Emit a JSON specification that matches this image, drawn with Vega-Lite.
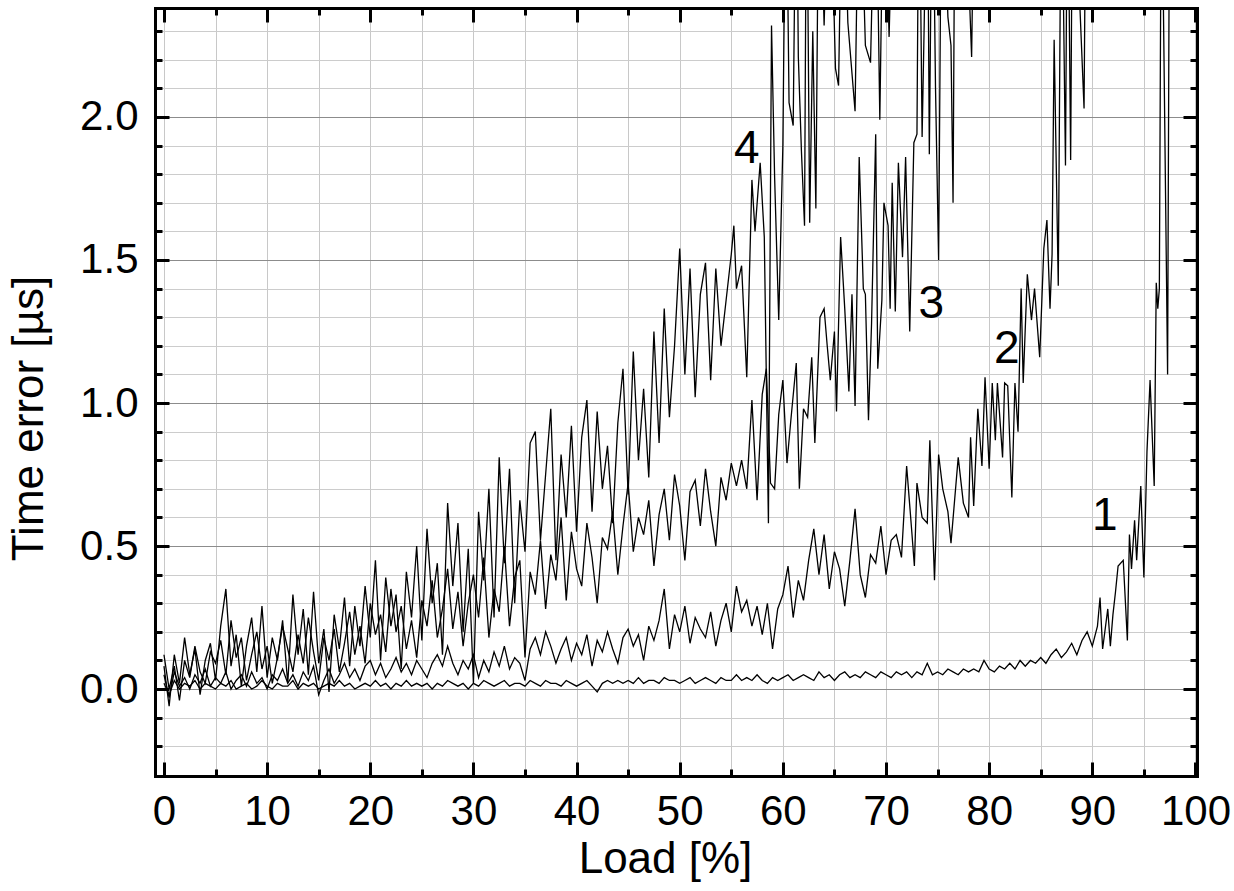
{
"$schema": "https://vega.github.io/schema/vega-lite/v6.json",
"width": 1042, "height": 768,
"autosize": {"type": "none"},
"padding": {"left": 155, "top": 8, "right": 37, "bottom": 115},
"background": "white",
"config": {"view": {"stroke": null}, "font": "Liberation Sans", "axis": {"labelFont": "Liberation Sans", "titleFont": "Liberation Sans"}},
"resolve": {"axis": {"x": "independent", "y": "independent"}},
"layer": [
{
"data": {"values": [
{"s":1,"x":0,"y":0.02},{"s":1,"x":0.5,"y":-0.02},{"s":1,"x":1,"y":0.03},{"s":1,"x":1.5,"y":0},{"s":1,"x":2,"y":0.02},{"s":1,"x":2.5,"y":0.01},{"s":1,"x":3,"y":0.03},{"s":1,"x":3.5,"y":0},{"s":1,"x":4,"y":0.02},{"s":1,"x":4.5,"y":0.01},{"s":1,"x":5,"y":0},{"s":1,"x":5.5,"y":0.02},{"s":1,"x":6,"y":0.01},{"s":1,"x":6.5,"y":0.03},{"s":1,"x":7,"y":0},{"s":1,"x":7.5,"y":0.01},{"s":1,"x":8,"y":0.02},{"s":1,"x":8.5,"y":0},{"s":1,"x":9,"y":0.01},{"s":1,"x":9.5,"y":0.03},
{"s":1,"x":10,"y":0.01},{"s":1,"x":10.5,"y":0},{"s":1,"x":11,"y":0.02},{"s":1,"x":11.5,"y":0.01},{"s":1,"x":12,"y":0.01},{"s":1,"x":12.5,"y":0.03},{"s":1,"x":13,"y":0},{"s":1,"x":13.5,"y":0.02},{"s":1,"x":14,"y":0.01},{"s":1,"x":14.5,"y":0.02},{"s":1,"x":15,"y":0},{"s":1,"x":15.5,"y":0.01},{"s":1,"x":16,"y":0.02},{"s":1,"x":16.5,"y":0.01},{"s":1,"x":17,"y":0.03},{"s":1,"x":17.5,"y":0.01},{"s":1,"x":18,"y":0.02},{"s":1,"x":18.5,"y":0},{"s":1,"x":19,"y":0.01},{"s":1,"x":19.5,"y":0.02},
{"s":1,"x":20,"y":0.01},{"s":1,"x":20.5,"y":0.03},{"s":1,"x":21,"y":0.01},{"s":1,"x":21.5,"y":0.02},{"s":1,"x":22,"y":0},{"s":1,"x":22.5,"y":0.02},{"s":1,"x":23,"y":0.01},{"s":1,"x":23.5,"y":0.03},{"s":1,"x":24,"y":0.01},{"s":1,"x":24.5,"y":0.02},{"s":1,"x":25,"y":0.01},{"s":1,"x":25.5,"y":0.02},{"s":1,"x":26,"y":0},{"s":1,"x":26.5,"y":0.02},{"s":1,"x":27,"y":0.01},{"s":1,"x":27.5,"y":0.03},{"s":1,"x":28,"y":0.02},{"s":1,"x":28.5,"y":0.01},{"s":1,"x":29,"y":0.02},{"s":1,"x":29.5,"y":0},
{"s":1,"x":30,"y":0.02},{"s":1,"x":30.5,"y":0.01},{"s":1,"x":31,"y":0.03},{"s":1,"x":31.5,"y":0.02},{"s":1,"x":32,"y":0.01},{"s":1,"x":32.5,"y":0.02},{"s":1,"x":33,"y":0.03},{"s":1,"x":33.5,"y":0.01},{"s":1,"x":34,"y":0.02},{"s":1,"x":34.5,"y":0.02},{"s":1,"x":35,"y":0.01},{"s":1,"x":35.5,"y":0.03},{"s":1,"x":36,"y":0.02},{"s":1,"x":36.5,"y":0.01},{"s":1,"x":37,"y":0.03},{"s":1,"x":37.5,"y":0.02},{"s":1,"x":38,"y":0.02},{"s":1,"x":38.5,"y":0.01},{"s":1,"x":39,"y":0.03},{"s":1,"x":39.5,"y":0.02},
{"s":1,"x":40,"y":0.01},{"s":1,"x":40.5,"y":0.02},{"s":1,"x":41,"y":0.03},{"s":1,"x":41.5,"y":0.01},{"s":1,"x":42,"y":-0.01},{"s":1,"x":42.5,"y":0.02},{"s":1,"x":43,"y":0.03},{"s":1,"x":43.5,"y":0.02},{"s":1,"x":44,"y":0.03},{"s":1,"x":44.5,"y":0.02},{"s":1,"x":45,"y":0.03},{"s":1,"x":45.5,"y":0.02},{"s":1,"x":46,"y":0.04},{"s":1,"x":46.5,"y":0.02},{"s":1,"x":47,"y":0.03},{"s":1,"x":47.5,"y":0.03},{"s":1,"x":48,"y":0.02},{"s":1,"x":48.5,"y":0.04},{"s":1,"x":49,"y":0.03},{"s":1,"x":49.5,"y":0.03},
{"s":1,"x":50,"y":0.02},{"s":1,"x":50.5,"y":0.03},{"s":1,"x":51,"y":0.04},{"s":1,"x":51.5,"y":0.02},{"s":1,"x":52,"y":0.03},{"s":1,"x":52.5,"y":0.04},{"s":1,"x":53,"y":0.03},{"s":1,"x":53.5,"y":0.02},{"s":1,"x":54,"y":0.04},{"s":1,"x":54.5,"y":0.03},{"s":1,"x":55,"y":0.03},{"s":1,"x":55.5,"y":0.05},{"s":1,"x":56,"y":0.03},{"s":1,"x":56.5,"y":0.04},{"s":1,"x":57,"y":0.03},{"s":1,"x":57.5,"y":0.05},{"s":1,"x":58,"y":0.03},{"s":1,"x":58.5,"y":0.02},{"s":1,"x":59,"y":0.04},{"s":1,"x":59.5,"y":0.03},
{"s":1,"x":60,"y":0.04},{"s":1,"x":60.5,"y":0.05},{"s":1,"x":61,"y":0.03},{"s":1,"x":61.5,"y":0.04},{"s":1,"x":62,"y":0.05},{"s":1,"x":62.5,"y":0.04},{"s":1,"x":63,"y":0.03},{"s":1,"x":63.5,"y":0.06},{"s":1,"x":64,"y":0.04},{"s":1,"x":64.5,"y":0.05},{"s":1,"x":65,"y":0.03},{"s":1,"x":65.5,"y":0.05},{"s":1,"x":66,"y":0.06},{"s":1,"x":66.5,"y":0.04},{"s":1,"x":67,"y":0.05},{"s":1,"x":67.5,"y":0.04},{"s":1,"x":68,"y":0.06},{"s":1,"x":68.5,"y":0.05},{"s":1,"x":69,"y":0.04},{"s":1,"x":69.5,"y":0.06},
{"s":1,"x":70,"y":0.05},{"s":1,"x":70.5,"y":0.04},{"s":1,"x":71,"y":0.06},{"s":1,"x":71.5,"y":0.05},{"s":1,"x":72,"y":0.06},{"s":1,"x":72.5,"y":0.04},{"s":1,"x":73,"y":0.06},{"s":1,"x":73.5,"y":0.05},{"s":1,"x":74,"y":0.09},{"s":1,"x":74.5,"y":0.05},{"s":1,"x":75,"y":0.06},{"s":1,"x":75.5,"y":0.05},{"s":1,"x":76,"y":0.07},{"s":1,"x":76.5,"y":0.06},{"s":1,"x":77,"y":0.05},{"s":1,"x":77.5,"y":0.07},{"s":1,"x":78,"y":0.06},{"s":1,"x":78.5,"y":0.07},{"s":1,"x":79,"y":0.06},{"s":1,"x":79.5,"y":0.1},
{"s":1,"x":80,"y":0.07},{"s":1,"x":80.5,"y":0.06},{"s":1,"x":81,"y":0.08},{"s":1,"x":81.5,"y":0.07},{"s":1,"x":82,"y":0.09},{"s":1,"x":82.5,"y":0.07},{"s":1,"x":83,"y":0.1},{"s":1,"x":83.5,"y":0.08},{"s":1,"x":84,"y":0.1},{"s":1,"x":84.5,"y":0.09},{"s":1,"x":85,"y":0.11},{"s":1,"x":85.5,"y":0.09},{"s":1,"x":86,"y":0.12},{"s":1,"x":86.5,"y":0.14},{"s":1,"x":87,"y":0.11},{"s":1,"x":87.5,"y":0.13},{"s":1,"x":88,"y":0.16},{"s":1,"x":88.5,"y":0.12},{"s":1,"x":89,"y":0.17},{"s":1,"x":89.5,"y":0.2},
{"s":1,"x":90,"y":0.15},{"s":1,"x":90.5,"y":0.22},{"s":1,"x":90.75,"y":0.32},{"s":1,"x":91,"y":0.14},{"s":1,"x":91.5,"y":0.28},{"s":1,"x":91.75,"y":0.15},{"s":1,"x":92,"y":0.26},{"s":1,"x":92.25,"y":0.34},{"s":1,"x":92.5,"y":0.43},{"s":1,"x":93,"y":0.45},{"s":1,"x":93.4,"y":0.17},{"s":1,"x":93.6,"y":0.54},{"s":1,"x":93.8,"y":0.42},{"s":1,"x":94.1,"y":0.59},{"s":1,"x":94.3,"y":0.45},{"s":1,"x":94.7,"y":0.71},{"s":1,"x":95,"y":0.39},{"s":1,"x":95.3,"y":0.83},{"s":1,"x":95.6,"y":1.08},{"s":1,"x":96,"y":0.71},{"s":1,"x":96.2,"y":1.42},{"s":1,"x":96.35,"y":1.33},{"s":1,"x":96.5,"y":1.4},{"s":1,"x":96.7,"y":3},{"s":1,"x":97.3,"y":1.1},{"s":1,"x":97.5,"y":3},
{"s":2,"x":0,"y":0.05},{"s":2,"x":0.5,"y":-0.03},{"s":2,"x":1,"y":0.06},{"s":2,"x":1.5,"y":0.01},{"s":2,"x":2,"y":0.04},{"s":2,"x":2.5,"y":0},{"s":2,"x":3,"y":0.05},{"s":2,"x":3.5,"y":0.02},{"s":2,"x":4,"y":0.07},{"s":2,"x":4.5,"y":0.01},{"s":2,"x":5,"y":0.04},{"s":2,"x":5.5,"y":0.02},{"s":2,"x":6,"y":0.06},{"s":2,"x":6.5,"y":0},{"s":2,"x":7,"y":0.03},{"s":2,"x":7.5,"y":0.05},{"s":2,"x":8,"y":0.01},{"s":2,"x":8.5,"y":0.06},{"s":2,"x":9,"y":0.02},{"s":2,"x":9.5,"y":0.04},
{"s":2,"x":10,"y":0},{"s":2,"x":10.5,"y":0.05},{"s":2,"x":11,"y":0.03},{"s":2,"x":11.5,"y":0.07},{"s":2,"x":12,"y":0.02},{"s":2,"x":12.5,"y":0.05},{"s":2,"x":13,"y":0.01},{"s":2,"x":13.5,"y":0.06},{"s":2,"x":14,"y":0.03},{"s":2,"x":14.5,"y":0.08},{"s":2,"x":15,"y":-0.02},{"s":2,"x":15.5,"y":0.03},{"s":2,"x":16,"y":0.07},{"s":2,"x":16.5,"y":0.02},{"s":2,"x":17,"y":0.05},{"s":2,"x":17.5,"y":0.09},{"s":2,"x":18,"y":0.04},{"s":2,"x":18.5,"y":0.07},{"s":2,"x":19,"y":0.03},{"s":2,"x":19.5,"y":0.08},
{"s":2,"x":20,"y":0.1},{"s":2,"x":20.5,"y":0.05},{"s":2,"x":21,"y":0.09},{"s":2,"x":21.5,"y":0.04},{"s":2,"x":22,"y":0.07},{"s":2,"x":22.5,"y":0.11},{"s":2,"x":23,"y":0.06},{"s":2,"x":23.5,"y":0.09},{"s":2,"x":24,"y":0.05},{"s":2,"x":24.5,"y":0.1},{"s":2,"x":25,"y":0.07},{"s":2,"x":25.5,"y":0.04},{"s":2,"x":26,"y":0.09},{"s":2,"x":26.5,"y":0.12},{"s":2,"x":27,"y":0.08},{"s":2,"x":27.5,"y":0.15},{"s":2,"x":28,"y":0.09},{"s":2,"x":28.5,"y":0.05},{"s":2,"x":29,"y":0.1},{"s":2,"x":29.5,"y":0.07},
{"s":2,"x":30,"y":0.12},{"s":2,"x":30.5,"y":0.04},{"s":2,"x":31,"y":0.1},{"s":2,"x":31.5,"y":0.06},{"s":2,"x":32,"y":0.13},{"s":2,"x":32.5,"y":0.08},{"s":2,"x":33,"y":0.15},{"s":2,"x":33.5,"y":0.07},{"s":2,"x":34,"y":0.11},{"s":2,"x":34.5,"y":0.09},{"s":2,"x":35,"y":0.03},{"s":2,"x":35.5,"y":0.14},{"s":2,"x":36,"y":0.18},{"s":2,"x":36.5,"y":0.12},{"s":2,"x":37,"y":0.2},{"s":2,"x":37.5,"y":0.15},{"s":2,"x":38,"y":0.09},{"s":2,"x":38.5,"y":0.14},{"s":2,"x":39,"y":0.18},{"s":2,"x":39.5,"y":0.1},
{"s":2,"x":40,"y":0.16},{"s":2,"x":40.5,"y":0.12},{"s":2,"x":41,"y":0.19},{"s":2,"x":41.5,"y":0.08},{"s":2,"x":42,"y":0.17},{"s":2,"x":42.5,"y":0.13},{"s":2,"x":43,"y":0.2},{"s":2,"x":43.5,"y":0.14},{"s":2,"x":44,"y":0.09},{"s":2,"x":44.5,"y":0.18},{"s":2,"x":45,"y":0.21},{"s":2,"x":45.5,"y":0.15},{"s":2,"x":46,"y":0.19},{"s":2,"x":46.5,"y":0.1},{"s":2,"x":47,"y":0.22},{"s":2,"x":47.5,"y":0.17},{"s":2,"x":48,"y":0.24},{"s":2,"x":48.5,"y":0.35},{"s":2,"x":49,"y":0.14},{"s":2,"x":49.5,"y":0.26},
{"s":2,"x":50,"y":0.2},{"s":2,"x":50.5,"y":0.29},{"s":2,"x":51,"y":0.16},{"s":2,"x":51.5,"y":0.25},{"s":2,"x":52,"y":0.21},{"s":2,"x":52.5,"y":0.18},{"s":2,"x":53,"y":0.27},{"s":2,"x":53.5,"y":0.15},{"s":2,"x":54,"y":0.24},{"s":2,"x":54.5,"y":0.3},{"s":2,"x":55,"y":0.2},{"s":2,"x":55.5,"y":0.36},{"s":2,"x":56,"y":0.27},{"s":2,"x":56.5,"y":0.31},{"s":2,"x":57,"y":0.22},{"s":2,"x":57.5,"y":0.29},{"s":2,"x":58,"y":0.19},{"s":2,"x":58.5,"y":0.3},{"s":2,"x":59,"y":0.14},{"s":2,"x":59.5,"y":0.28},
{"s":2,"x":60,"y":0.33},{"s":2,"x":60.5,"y":0.43},{"s":2,"x":61,"y":0.25},{"s":2,"x":61.5,"y":0.38},{"s":2,"x":62,"y":0.31},{"s":2,"x":62.5,"y":0.45},{"s":2,"x":63,"y":0.56},{"s":2,"x":63.5,"y":0.4},{"s":2,"x":64,"y":0.54},{"s":2,"x":64.5,"y":0.35},{"s":2,"x":65,"y":0.48},{"s":2,"x":65.5,"y":0.42},{"s":2,"x":66,"y":0.29},{"s":2,"x":66.5,"y":0.45},{"s":2,"x":67,"y":0.63},{"s":2,"x":67.5,"y":0.4},{"s":2,"x":68,"y":0.32},{"s":2,"x":68.5,"y":0.47},{"s":2,"x":69,"y":0.44},{"s":2,"x":69.5,"y":0.57},
{"s":2,"x":70,"y":0.4},{"s":2,"x":70.5,"y":0.52},{"s":2,"x":71,"y":0.54},{"s":2,"x":71.5,"y":0.46},{"s":2,"x":72,"y":0.78},{"s":2,"x":72.5,"y":0.55},{"s":2,"x":72.75,"y":0.43},{"s":2,"x":73,"y":0.72},{"s":2,"x":73.5,"y":0.6},{"s":2,"x":74,"y":0.58},{"s":2,"x":74.25,"y":0.87},{"s":2,"x":74.7,"y":0.38},{"s":2,"x":75.1,"y":0.82},{"s":2,"x":75.5,"y":0.7},{"s":2,"x":76,"y":0.62},{"s":2,"x":76.3,"y":0.51},{"s":2,"x":77,"y":0.81},{"s":2,"x":77.5,"y":0.65},{"s":2,"x":78,"y":0.6},{"s":2,"x":78.2,"y":0.88},{"s":2,"x":78.5,"y":0.64},{"s":2,"x":78.9,"y":0.98},{"s":2,"x":79.3,"y":0.78},{"s":2,"x":79.6,"y":1.09},
{"s":2,"x":80,"y":0.77},{"s":2,"x":80.3,"y":1.07},{"s":2,"x":80.6,"y":0.87},{"s":2,"x":80.8,"y":1.07},{"s":2,"x":81.3,"y":0.81},{"s":2,"x":81.5,"y":1.07},{"s":2,"x":81.8,"y":1.06},{"s":2,"x":82.2,"y":0.67},{"s":2,"x":82.5,"y":1.07},{"s":2,"x":82.8,"y":0.9},{"s":2,"x":83.1,"y":1.4},{"s":2,"x":83.3,"y":1.07},{"s":2,"x":83.7,"y":1.45},{"s":2,"x":84.1,"y":1.29},{"s":2,"x":84.4,"y":1.4},{"s":2,"x":84.9,"y":1.16},{"s":2,"x":85.3,"y":1.54},{"s":2,"x":85.6,"y":1.64},{"s":2,"x":85.9,"y":1.33},{"s":2,"x":86.1,"y":1.52},{"s":2,"x":86.3,"y":2.27},{"s":2,"x":86.7,"y":1.41},{"s":2,"x":87,"y":3},{"s":2,"x":87.4,"y":1.83},{"s":2,"x":87.6,"y":3},{"s":2,"x":87.9,"y":1.85},{"s":2,"x":88.1,"y":3},{"s":2,"x":89.2,"y":2.03},{"s":2,"x":89.4,"y":3},
{"s":3,"x":0,"y":0.12},{"s":3,"x":0.5,"y":0},{"s":3,"x":1,"y":0.08},{"s":3,"x":1.5,"y":-0.04},{"s":3,"x":2,"y":0.1},{"s":3,"x":2.5,"y":0.04},{"s":3,"x":3,"y":0.15},{"s":3,"x":3.5,"y":0.06},{"s":3,"x":4,"y":0.02},{"s":3,"x":4.5,"y":0.13},{"s":3,"x":5,"y":0.09},{"s":3,"x":5.5,"y":0.17},{"s":3,"x":6,"y":0.05},{"s":3,"x":6.5,"y":0.24},{"s":3,"x":7,"y":0.11},{"s":3,"x":7.5,"y":0.18},{"s":3,"x":8,"y":0.03},{"s":3,"x":8.5,"y":0.12},{"s":3,"x":9,"y":0.2},{"s":3,"x":9.5,"y":0.07},
{"s":3,"x":10,"y":0.15},{"s":3,"x":10.5,"y":0.02},{"s":3,"x":11,"y":0.11},{"s":3,"x":11.5,"y":0.22},{"s":3,"x":12,"y":0.14},{"s":3,"x":12.5,"y":0.06},{"s":3,"x":13,"y":0.19},{"s":3,"x":13.5,"y":0.09},{"s":3,"x":14,"y":0.25},{"s":3,"x":14.5,"y":0.13},{"s":3,"x":15,"y":0.03},{"s":3,"x":15.5,"y":0.18},{"s":3,"x":16,"y":0.1},{"s":3,"x":16.5,"y":0.21},{"s":3,"x":17,"y":0.06},{"s":3,"x":17.5,"y":0.16},{"s":3,"x":18,"y":0.27},{"s":3,"x":18.5,"y":0.12},{"s":3,"x":19,"y":0.22},{"s":3,"x":19.5,"y":0.09},
{"s":3,"x":20,"y":0.3},{"s":3,"x":20.5,"y":0.19},{"s":3,"x":21,"y":0.26},{"s":3,"x":21.5,"y":0.13},{"s":3,"x":22,"y":0.35},{"s":3,"x":22.5,"y":0.2},{"s":3,"x":23,"y":0.29},{"s":3,"x":23.5,"y":0.14},{"s":3,"x":24,"y":0.24},{"s":3,"x":24.5,"y":0.11},{"s":3,"x":25,"y":0.31},{"s":3,"x":25.5,"y":0.22},{"s":3,"x":26,"y":0.38},{"s":3,"x":26.5,"y":0.18},{"s":3,"x":27,"y":0.28},{"s":3,"x":27.5,"y":0.42},{"s":3,"x":28,"y":0.21},{"s":3,"x":28.5,"y":0.34},{"s":3,"x":29,"y":0.15},{"s":3,"x":29.5,"y":0.3},
{"s":3,"x":30,"y":0.4},{"s":3,"x":30.5,"y":0.25},{"s":3,"x":31,"y":0.46},{"s":3,"x":31.5,"y":0.18},{"s":3,"x":32,"y":0.35},{"s":3,"x":32.5,"y":0.27},{"s":3,"x":33,"y":0.5},{"s":3,"x":33.5,"y":0.22},{"s":3,"x":34,"y":0.39},{"s":3,"x":34.5,"y":0.45},{"s":3,"x":35,"y":0.11},{"s":3,"x":35.5,"y":0.41},{"s":3,"x":36,"y":0.33},{"s":3,"x":36.5,"y":0.52},{"s":3,"x":37,"y":0.28},{"s":3,"x":37.5,"y":0.47},{"s":3,"x":38,"y":0.38},{"s":3,"x":38.5,"y":0.6},{"s":3,"x":39,"y":0.31},{"s":3,"x":39.5,"y":0.55},
{"s":3,"x":40,"y":0.42},{"s":3,"x":40.5,"y":0.36},{"s":3,"x":41,"y":0.58},{"s":3,"x":41.5,"y":0.46},{"s":3,"x":42,"y":0.3},{"s":3,"x":42.5,"y":0.53},{"s":3,"x":43,"y":0.49},{"s":3,"x":43.5,"y":0.62},{"s":3,"x":44,"y":0.4},{"s":3,"x":44.5,"y":0.57},{"s":3,"x":45,"y":0.72},{"s":3,"x":45.5,"y":0.48},{"s":3,"x":46,"y":0.6},{"s":3,"x":46.5,"y":0.54},{"s":3,"x":47,"y":0.66},{"s":3,"x":47.5,"y":0.43},{"s":3,"x":48,"y":0.61},{"s":3,"x":48.5,"y":0.7},{"s":3,"x":49,"y":0.52},{"s":3,"x":49.5,"y":0.75},
{"s":3,"x":50,"y":0.64},{"s":3,"x":50.5,"y":0.45},{"s":3,"x":51,"y":0.69},{"s":3,"x":51.5,"y":0.73},{"s":3,"x":52,"y":0.57},{"s":3,"x":52.5,"y":0.77},{"s":3,"x":53,"y":0.62},{"s":3,"x":53.5,"y":0.5},{"s":3,"x":54,"y":0.74},{"s":3,"x":54.5,"y":0.66},{"s":3,"x":55,"y":0.79},{"s":3,"x":55.5,"y":0.71},{"s":3,"x":56,"y":0.8},{"s":3,"x":56.5,"y":0.7},{"s":3,"x":57,"y":1.01},{"s":3,"x":57.5,"y":0.66},{"s":3,"x":58,"y":1.03},{"s":3,"x":58.4,"y":1.12},{"s":3,"x":58.8,"y":0.72},{"s":3,"x":59.2,"y":0.7},{"s":3,"x":59.6,"y":0.96},
{"s":3,"x":60,"y":1.08},{"s":3,"x":60.4,"y":0.79},{"s":3,"x":60.8,"y":0.95},{"s":3,"x":61.3,"y":1.14},{"s":3,"x":61.6,"y":0.7},{"s":3,"x":62,"y":0.98},{"s":3,"x":62.4,"y":0.95},{"s":3,"x":62.8,"y":1.16},{"s":3,"x":63.1,"y":0.86},{"s":3,"x":63.6,"y":1.3},{"s":3,"x":64,"y":1.33},{"s":3,"x":64.3,"y":1.2},{"s":3,"x":64.6,"y":1.08},{"s":3,"x":65,"y":1.25},{"s":3,"x":65.2,"y":0.97},{"s":3,"x":65.6,"y":1.58},{"s":3,"x":66,"y":1.33},{"s":3,"x":66.4,"y":1.04},{"s":3,"x":66.7,"y":1.38},{"s":3,"x":67,"y":0.99},{"s":3,"x":67.4,"y":1.86},{"s":3,"x":67.8,"y":1.4},{"s":3,"x":68,"y":1.38},{"s":3,"x":68.3,"y":0.94},{"s":3,"x":68.6,"y":1.28},{"s":3,"x":69,"y":1.94},{"s":3,"x":69.2,"y":1.12},{"s":3,"x":69.6,"y":1.36},{"s":3,"x":69.8,"y":1.7},
{"s":3,"x":70.2,"y":1.62},{"s":3,"x":70.4,"y":1.33},{"s":3,"x":70.6,"y":1.77},{"s":3,"x":70.9,"y":1.32},{"s":3,"x":71.2,"y":1.84},{"s":3,"x":71.6,"y":1.51},{"s":3,"x":71.9,"y":1.86},{"s":3,"x":72.3,"y":1.25},{"s":3,"x":72.7,"y":1.91},{"s":3,"x":73,"y":1.94},{"s":3,"x":73.2,"y":3},{"s":3,"x":73.5,"y":1.93},{"s":3,"x":73.7,"y":2.32},{"s":3,"x":74,"y":3},{"s":3,"x":74.2,"y":1.87},{"s":3,"x":74.5,"y":3},{"s":3,"x":74.8,"y":2.1},{"s":3,"x":75.1,"y":1.5},{"s":3,"x":75.4,"y":3},{"s":3,"x":76,"y":2.35},{"s":3,"x":76.3,"y":2.25},{"s":3,"x":76.5,"y":1.7},{"s":3,"x":76.7,"y":3},{"s":3,"x":77.5,"y":3},{"s":3,"x":78.3,"y":2.21},{"s":3,"x":78.6,"y":3},
{"s":4,"x":0,"y":0.08},{"s":4,"x":0.5,"y":-0.06},{"s":4,"x":1,"y":0.12},{"s":4,"x":1.5,"y":0.02},{"s":4,"x":2,"y":0.18},{"s":4,"x":2.5,"y":0.05},{"s":4,"x":3,"y":0.14},{"s":4,"x":3.5,"y":-0.02},{"s":4,"x":4,"y":0.1},{"s":4,"x":4.5,"y":0.16},{"s":4,"x":5,"y":0.03},{"s":4,"x":5.5,"y":0.22},{"s":4,"x":6,"y":0.35},{"s":4,"x":6.5,"y":0.08},{"s":4,"x":7,"y":0.19},{"s":4,"x":7.5,"y":0.01},{"s":4,"x":8,"y":0.15},{"s":4,"x":8.5,"y":0.25},{"s":4,"x":9,"y":0.06},{"s":4,"x":9.5,"y":0.29},
{"s":4,"x":10,"y":0.04},{"s":4,"x":10.5,"y":0.18},{"s":4,"x":11,"y":0.1},{"s":4,"x":11.5,"y":0.24},{"s":4,"x":12,"y":0.02},{"s":4,"x":12.5,"y":0.33},{"s":4,"x":13,"y":0.12},{"s":4,"x":13.5,"y":0.28},{"s":4,"x":14,"y":0.05},{"s":4,"x":14.5,"y":0.34},{"s":4,"x":15,"y":0.09},{"s":4,"x":15.5,"y":0.21},{"s":4,"x":16,"y":-0.01},{"s":4,"x":16.5,"y":0.26},{"s":4,"x":17,"y":0.14},{"s":4,"x":17.5,"y":0.32},{"s":4,"x":18,"y":0.08},{"s":4,"x":18.5,"y":0.29},{"s":4,"x":19,"y":0.15},{"s":4,"x":19.5,"y":0.36},
{"s":4,"x":20,"y":0.18},{"s":4,"x":20.5,"y":0.45},{"s":4,"x":21,"y":0.1},{"s":4,"x":21.5,"y":0.39},{"s":4,"x":22,"y":0.22},{"s":4,"x":22.5,"y":0.33},{"s":4,"x":23,"y":0.07},{"s":4,"x":23.5,"y":0.41},{"s":4,"x":24,"y":0.25},{"s":4,"x":24.5,"y":0.5},{"s":4,"x":25,"y":0.17},{"s":4,"x":25.5,"y":0.56},{"s":4,"x":26,"y":0.3},{"s":4,"x":26.5,"y":0.44},{"s":4,"x":27,"y":0.12},{"s":4,"x":27.5,"y":0.65},{"s":4,"x":28,"y":0.36},{"s":4,"x":28.5,"y":0.58},{"s":4,"x":29,"y":0.2},{"s":4,"x":29.5,"y":0.49},
{"s":4,"x":30,"y":0.02},{"s":4,"x":30.5,"y":0.62},{"s":4,"x":31,"y":0.38},{"s":4,"x":31.5,"y":0.7},{"s":4,"x":32,"y":0.25},{"s":4,"x":32.5,"y":0.81},{"s":4,"x":33,"y":0.44},{"s":4,"x":33.5,"y":0.77},{"s":4,"x":34,"y":0.3},{"s":4,"x":34.5,"y":0.66},{"s":4,"x":35,"y":0.48},{"s":4,"x":35.5,"y":0.86},{"s":4,"x":36,"y":0.9},{"s":4,"x":36.5,"y":0.52},{"s":4,"x":37,"y":0.75},{"s":4,"x":37.5,"y":0.98},{"s":4,"x":38,"y":0.45},{"s":4,"x":38.5,"y":0.82},{"s":4,"x":39,"y":0.6},{"s":4,"x":39.5,"y":0.92},
{"s":4,"x":40,"y":0.55},{"s":4,"x":40.5,"y":0.88},{"s":4,"x":41,"y":1.01},{"s":4,"x":41.5,"y":0.62},{"s":4,"x":42,"y":0.97},{"s":4,"x":42.5,"y":0.7},{"s":4,"x":43,"y":0.85},{"s":4,"x":43.5,"y":0.58},{"s":4,"x":44,"y":0.93},{"s":4,"x":44.5,"y":1.12},{"s":4,"x":45,"y":0.68},{"s":4,"x":45.5,"y":1.18},{"s":4,"x":46,"y":0.8},{"s":4,"x":46.5,"y":1.05},{"s":4,"x":47,"y":0.74},{"s":4,"x":47.5,"y":1.25},{"s":4,"x":48,"y":0.86},{"s":4,"x":48.5,"y":1.33},{"s":4,"x":49,"y":0.95},{"s":4,"x":49.5,"y":1.2},
{"s":4,"x":50,"y":1.54},{"s":4,"x":50.5,"y":1.1},{"s":4,"x":51,"y":1.47},{"s":4,"x":51.5,"y":1.02},{"s":4,"x":52,"y":1.38},{"s":4,"x":52.5,"y":1.49},{"s":4,"x":53,"y":1.08},{"s":4,"x":53.5,"y":1.47},{"s":4,"x":54,"y":1.2},{"s":4,"x":54.5,"y":1.36},{"s":4,"x":55,"y":1.52},{"s":4,"x":55.25,"y":1.62},{"s":4,"x":55.5,"y":1.4},{"s":4,"x":56,"y":1.48},{"s":4,"x":56.5,"y":1.09},{"s":4,"x":57,"y":1.78},{"s":4,"x":57.3,"y":1.6},{"s":4,"x":57.8,"y":1.84},{"s":4,"x":58.2,"y":1.58},{"s":4,"x":58.6,"y":0.58},{"s":4,"x":58.9,"y":2.32},{"s":4,"x":59.2,"y":1.79},{"s":4,"x":59.6,"y":1.29},
{"s":4,"x":60,"y":1.9},{"s":4,"x":60.3,"y":3},{"s":4,"x":60.6,"y":2.05},{"s":4,"x":61,"y":1.97},{"s":4,"x":61.3,"y":3},{"s":4,"x":61.5,"y":2.21},{"s":4,"x":61.8,"y":1.88},{"s":4,"x":62.1,"y":1.62},{"s":4,"x":62.3,"y":3},{"s":4,"x":62.6,"y":1.63},{"s":4,"x":62.9,"y":2.3},{"s":4,"x":63.2,"y":1.68},{"s":4,"x":63.5,"y":3},{"s":4,"x":64,"y":2.32},{"s":4,"x":64.5,"y":3},{"s":4,"x":65.1,"y":2.17},{"s":4,"x":65.4,"y":2.11},{"s":4,"x":65.8,"y":3},{"s":4,"x":66.3,"y":2.33},{"s":4,"x":67,"y":2.02},{"s":4,"x":67.4,"y":3},{"s":4,"x":68,"y":2.25},{"s":4,"x":68.5,"y":2.19},{"s":4,"x":69,"y":3},{"s":4,"x":69.4,"y":1.99},{"s":4,"x":69.8,"y":3},{"s":4,"x":70.3,"y":2.28},{"s":4,"x":70.8,"y":3}
]},
"mark": {"type": "line", "color": "black", "strokeWidth": 1.3, "clip": true},
"encoding": {
"x": {"field": "x", "type": "quantitative", "scale": {"domain": [-0.87, 100.15], "nice": false, "zero": false},
 "axis": {"orient": "bottom", "values": [0,5,10,15,20,25,30,35,40,45,50,55,60,65,70,75,80,85,90,95,100],
  "title": "Load [%]", "titleFontSize": 44, "titleFontWeight": "normal", "titleColor": "black", "titleX": 510, "titleY": 96, "titleBaseline": "alphabetic",
  "labelFontSize": 42, "labelColor": "black", "labelExpr": "datum.value % 10 === 0 ? datum.label : ''", "labelPadding": 29, "labelOverlap": false, "labelFlush": false,
  "tickSize": {"condition": {"test": "datum.value % 10 === 0", "value": -14}, "value": -7}, "tickWidth": 3, "tickColor": "black",
  "domain": true, "domainWidth": 3, "domainColor": "black", "domainCap": "square",
  "grid": true, "gridColor": "#c8c8c8", "gridWidth": 1}},
"y": {"field": "y", "type": "quantitative", "scale": {"domain": [-0.304, 2.381], "nice": false, "zero": false},
 "axis": {"orient": "left", "values": [-0.2,-0.1,0,0.1,0.2,0.3,0.4,0.5,0.6,0.7,0.8,0.9,1,1.1,1.2,1.3,1.4,1.5,1.6,1.7,1.8,1.9,2,2.1,2.2,2.3],
  "title": "Time error [µs]", "titleFontSize": 44, "titleFontWeight": "normal", "titleColor": "black", "titleX": -113, "titleY": 410, "titleBaseline": "alphabetic",
  "format": ".1f", "labelFontSize": 42, "labelColor": "black", "labelExpr": "round(datum.value*10) % 5 === 0 ? datum.label : ''", "labelPadding": 31, "labelOverlap": false, "labelFlush": false,
  "tickSize": {"condition": {"test": "round(datum.value*10) % 5 === 0", "value": -14}, "value": -7}, "tickWidth": 3, "tickColor": "black",
  "domain": true, "domainWidth": 3, "domainColor": "black", "domainCap": "square",
  "grid": true, "gridColor": {"condition": {"test": "round(datum.value*10) % 5 === 0", "value": "#8c8c8c"}, "value": "#cccccc"}, "gridWidth": 1}},
"detail": {"field": "s", "type": "nominal"}
}
},
{
"data": {"values": [{"t":"1","x":91.2,"y":0.605},{"t":"2","x":81.7,"y":1.19},{"t":"3","x":74.4,"y":1.346},{"t":"4","x":56.5,"y":1.888}]},
"mark": {"type": "text", "fontSize": 46, "font": "Liberation Sans", "color": "black", "align": "center", "baseline": "middle"},
"encoding": {
"x": {"field": "x", "type": "quantitative", "scale": {"domain": [-0.87, 100.15], "nice": false, "zero": false},
 "axis": {"orient": "top", "values": [0,5,10,15,20,25,30,35,40,45,50,55,60,65,70,75,80,85,90,95,100], "title": null, "labels": false,
  "tickSize": {"condition": {"test": "datum.value % 10 === 0", "value": -14}, "value": -7}, "tickWidth": 3, "tickColor": "black",
  "domain": true, "domainWidth": 3, "domainColor": "black", "domainCap": "square", "grid": false, "zindex": 1}},
"y": {"field": "y", "type": "quantitative", "scale": {"domain": [-0.304, 2.381], "nice": false, "zero": false},
 "axis": {"orient": "right", "values": [-0.2,-0.1,0,0.1,0.2,0.3,0.4,0.5,0.6,0.7,0.8,0.9,1,1.1,1.2,1.3,1.4,1.5,1.6,1.7,1.8,1.9,2,2.1,2.2,2.3], "title": null, "labels": false,
  "tickSize": {"condition": {"test": "round(datum.value*10) % 5 === 0", "value": -14}, "value": -7}, "tickWidth": 3, "tickColor": "black",
  "domain": true, "domainWidth": 3, "domainColor": "black", "domainCap": "square", "grid": false, "zindex": 1}},
"text": {"field": "t", "type": "nominal"}
}
}
]
}
